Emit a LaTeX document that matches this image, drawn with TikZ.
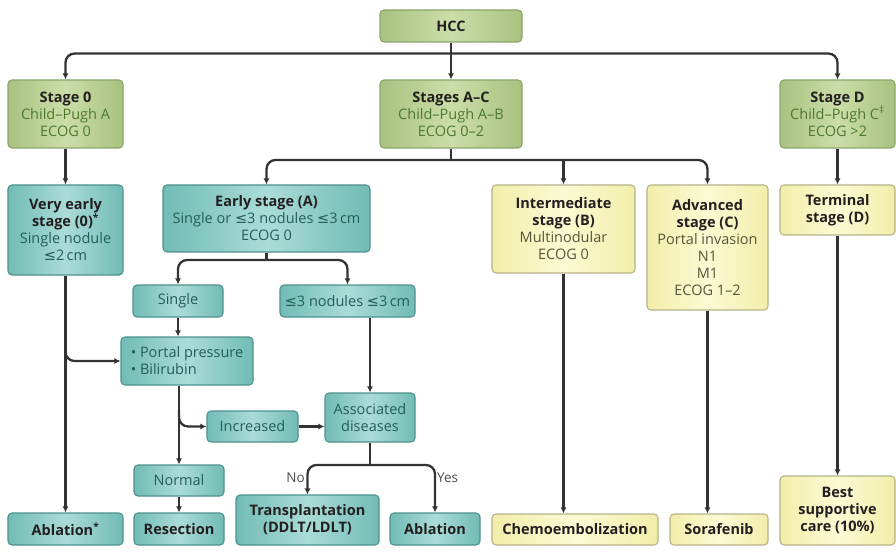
\documentclass[tikz,border=0pt]{standalone}
\usepackage{fontspec}
\setmainfont{Open Sans}
\newfontfamily\symf{DejaVu Sans}
\usetikzlibrary{arrows.meta,calc}
\definecolor{greenL}{HTML}{CBDDA8}
\definecolor{greenD}{HTML}{A9C27F}
\definecolor{greenB}{HTML}{8AA56A}
\definecolor{greenT}{HTML}{4D7A30}
\definecolor{tealL}{HTML}{AADCD7}
\definecolor{tealD}{HTML}{72BBB6}
\definecolor{tealB}{HTML}{4D918D}
\definecolor{tealT}{HTML}{245E5A}
\definecolor{yelL}{HTML}{FCFAD3}
\definecolor{yelD}{HTML}{F1EEAA}
\definecolor{yelB}{HTML}{B5B28A}
\definecolor{yelT}{HTML}{55553A}
\definecolor{titleC}{HTML}{231F20}
\definecolor{lineC}{HTML}{333333}
\newcommand{\myle}{{\symf ≤}}
\tikzset{
  box/.style={draw, rounded corners=4pt, line width=1.1pt, align=center, inner sep=1pt,
    font=\fontsize{14.5}{17}\selectfont, text=titleC},
  gbox/.style={box, draw=greenB, left color=greenD, right color=greenD, middle color=greenL},
  tbox/.style={box, draw=tealB, left color=tealD, right color=tealD, middle color=tealL},
  ybox/.style={box, draw=yelB, left color=yelD, right color=yelD, middle color=yelL},
  wire/.style={draw=lineC, line width=2.3pt},
  conn/.style={wire, -{Latex[length=6pt,width=6pt]}},
  rc/.style={rounded corners=9pt},
  lbl/.style={font=\fontsize{13.5}{15}\selectfont, text=black!70, inner sep=1pt}
}
\begin{document}
\begin{tikzpicture}[x=1pt,y=-1pt]
\useasboundingbox (0,0) rectangle (896,553);
% helper levels
\coordinate (y340) at (0,342);
\coordinate (y410) at (0,410);
\coordinate (y160) at (0,160);
\coordinate (y260) at (0,260);
\coordinate (y465) at (0,465);
% green
\node[gbox, minimum width=142pt, minimum height=32pt] (hcc) at (451,26) {\textbf{HCC}};
\node[gbox, minimum width=115pt, minimum height=68pt] (s0) at (65.5,114) {\textbf{Stage 0}\\\textcolor{greenT}{Child–Pugh A}\\\textcolor{greenT}{ECOG 0}};
\node[gbox, minimum width=142pt, minimum height=68pt] (sac) at (451,114) {\textbf{Stages A–C}\\\textcolor{greenT}{Child–Pugh A–B}\\\textcolor{greenT}{ECOG 0–2}};
\node[gbox, minimum width=115pt, minimum height=68pt] (sd) at (837.5,114) {\textbf{Stage D}\\\textcolor{greenT}{Child–Pugh C\textsuperscript{‡}}\\\textcolor{greenT}{ECOG >2}};
% teal
\node[tbox, minimum width=115pt, minimum height=90pt] (ve) at (65.5,230) {\textbf{Very early}\\\textbf{stage (0)\textsuperscript{*}}\\\textcolor{tealT}{Single nodule}\\\textcolor{tealT}{\myle2\,cm}};
\node[tbox, minimum width=207pt, minimum height=67pt] (ea) at (266.5,218.5) {\textbf{Early stage (A)}\\\textcolor{tealT}{Single or \myle3 nodules \myle3\,cm}\\\textcolor{tealT}{ECOG 0}};
\node[tbox, minimum width=90pt, minimum height=32pt] (single) at (178,301) {\textcolor{tealT}{Single}};
\node[tbox, minimum width=135pt, minimum height=32pt] (le3) at (347.5,301) {\textcolor{tealT}{\myle3 nodules \myle3\,cm}};
\node[tbox, minimum width=132pt, minimum height=48pt, align=left] (portal) at (187,361) {\textcolor{tealT}{• Portal pressure}\\\textcolor{tealT}{• Bilirubin}\hspace*{26pt}};
\node[tbox, minimum width=91pt, minimum height=31pt] (incr) at (252.5,426.5) {\textcolor{tealT}{Increased}};
\node[tbox, minimum width=90pt, minimum height=49pt] (assoc) at (370,417.5) {\textcolor{tealT}{Associated}\\\textcolor{tealT}{diseases}};
\node[tbox, minimum width=90pt, minimum height=31pt] (normal) at (179,480.5) {\textcolor{tealT}{Normal}};
\node[tbox, minimum width=90pt, minimum height=32pt] (resec) at (179,529) {\textbf{Resection}};
\node[tbox, minimum width=115pt, minimum height=32pt] (abl1) at (65.5,529) {\textbf{Ablation\textsuperscript{*}}};
\node[tbox, minimum width=143pt, minimum height=50pt] (trans) at (307.5,520) {\textbf{Transplantation}\\\textbf{(DDLT/LDLT)}};
\node[tbox, minimum width=90pt, minimum height=32pt] (abl2) at (435,529) {\textbf{Ablation}};
% yellow
\node[ybox, minimum width=143pt, minimum height=88pt] (inter) at (563.5,229) {\textbf{Intermediate}\\\textbf{stage (B)}\\\textcolor{yelT}{Multinodular}\\\textcolor{yelT}{ECOG 0}};
\node[ybox, minimum width=121pt, minimum height=125pt] (adv) at (707.5,247.5) {\textbf{Advanced}\\\textbf{stage (C)}\\\textcolor{yelT}{Portal invasion}\\\textcolor{yelT}{N1}\\\textcolor{yelT}{M1}\\\textcolor{yelT}{ECOG 1–2}};
\node[ybox, minimum width=115pt, minimum height=50pt] (term) at (837.5,210) {\textbf{Terminal}\\\textbf{stage (D)}};
\node[ybox, minimum width=166pt, minimum height=31pt] (chemo) at (575,529.5) {\textbf{Chemoembolization}};
\node[ybox, minimum width=98pt, minimum height=31pt] (sora) at (719,529.5) {\textbf{Sorafenib}};
\node[ybox, minimum width=115pt, minimum height=69pt] (bsc) at (837.5,510.5) {\textbf{Best}\\\textbf{supportive}\\\textbf{care (10\%)}};
% connectors
\coordinate (j1) at ($(hcc.south)+(0,11)$);
\draw[conn] (hcc) -- (sac);
\draw[conn, rc] (j1) -| (s0.north);
\draw[conn, rc] (j1) -| (sd.north);
\draw[conn] (s0) -- (ve);
\draw[conn] (sd) -- (term);
\coordinate (j2) at (sac.south |- y160);
\draw[wire] (sac.south) -- (j2);
\draw[conn, rc] (j2) -| (ea.north);
\draw[conn, rc] (j2) -| (adv.north);
\draw[conn] (inter.north |- j2) -- (inter.north);
\coordinate (j3) at (ea.south |- y260);
\draw[wire] (ea.south) -- (j3);
\draw[conn, rc] (j3) -| (single.north);
\draw[conn, rc] (j3) -| (le3.north);
\draw[conn] (single.south) -- (single.south |- portal.north);
\draw[conn] (ve) -- (abl1);
\draw[conn, rc] (ve.south |- y340) |- (portal.west);
\draw[conn] (normal.north |- portal.south) -- (normal.north);
\draw[conn, rc] (normal.north |- y410) |- (incr.west);
\draw[conn] (incr.east) -- (incr.east -| assoc.west);
\draw[conn] (assoc.north |- le3.south) -- (assoc.north);
\draw[conn] (normal) -- (resec);
\coordinate (j4) at (assoc.south |- y465);
\draw[wire] (assoc.south) -- (j4);
\draw[conn, rc] (j4) -| (trans.north);
\draw[conn, rc] (j4) -| (abl2.north);
\draw[conn] (inter.south) -- (inter.south |- chemo.north);
\draw[conn] (adv.south) -- (adv.south |- sora.north);
\draw[conn] (term) -- (bsc);
\node[lbl, anchor=east] (no) at (306,478) {No};
\node[lbl, anchor=west] (yes) at (436,478) {Yes};
\end{tikzpicture}
\end{document}
